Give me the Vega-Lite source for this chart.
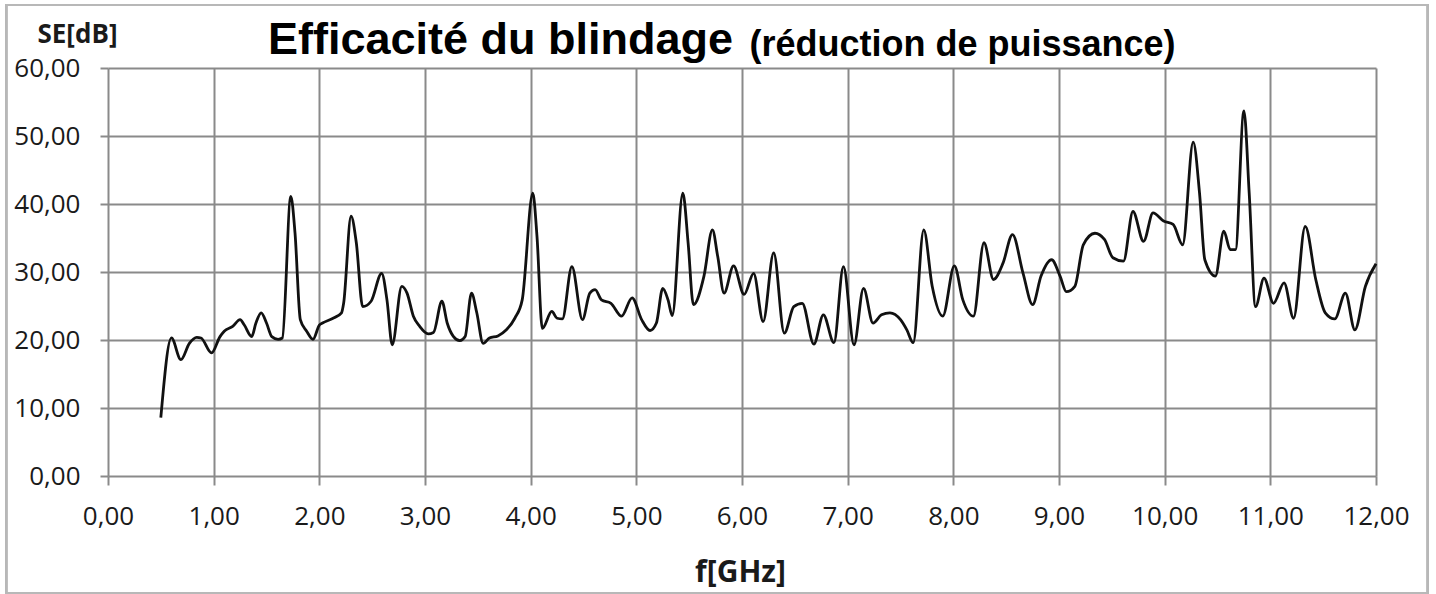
{
  "$schema": "https://vega.github.io/schema/vega-lite/v6.json",
  "width": 1268,
  "height": 408,
  "autosize": {"type": "none"},
  "padding": {"left": 108, "top": 68, "right": 60, "bottom": 118},
  "background": "white",
  "title": {
    "text": "Efficacité du blindage",
    "font": "Liberation Sans",
    "fontSize": 45,
    "fontWeight": "bold",
    "color": "#000000",
    "anchor": "start",
    "frame": "group",
    "baseline": "alphabetic",
    "offset": 0,
    "dx": 160,
    "dy": 95
  },
  "data": {
    "values": [
      {"f": 0.50, "se": 8.6}, {"f": 0.60, "se": 20.3}, {"f": 0.69, "se": 17.1}, {"f": 0.77, "se": 19.5},
      {"f": 0.84, "se": 20.4}, {"f": 0.88, "se": 20.3}, {"f": 0.98, "se": 18.1}, {"f": 1.06, "se": 20.5},
      {"f": 1.10, "se": 21.3}, {"f": 1.18, "se": 22.0}, {"f": 1.25, "se": 23.0}, {"f": 1.29, "se": 22.2},
      {"f": 1.36, "se": 20.5}, {"f": 1.40, "se": 22.5}, {"f": 1.45, "se": 24.0}, {"f": 1.50, "se": 22.5},
      {"f": 1.55, "se": 20.5}, {"f": 1.61, "se": 20.1}, {"f": 1.65, "se": 20.3}, {"f": 1.73, "se": 41.1},
      {"f": 1.77, "se": 35.7}, {"f": 1.82, "se": 23.0}, {"f": 1.88, "se": 21.3}, {"f": 1.94, "se": 20.1},
      {"f": 2.00, "se": 22.2}, {"f": 2.03, "se": 22.5}, {"f": 2.13, "se": 23.2}, {"f": 2.21, "se": 24.0},
      {"f": 2.23, "se": 25.4}, {"f": 2.30, "se": 38.2}, {"f": 2.35, "se": 34.3}, {"f": 2.41, "se": 24.9},
      {"f": 2.49, "se": 25.7}, {"f": 2.59, "se": 29.8}, {"f": 2.64, "se": 25.9}, {"f": 2.69, "se": 19.3},
      {"f": 2.78, "se": 27.9}, {"f": 2.83, "se": 26.9}, {"f": 2.89, "se": 23.5}, {"f": 2.95, "se": 22.0},
      {"f": 3.03, "se": 20.9}, {"f": 3.08, "se": 21.1}, {"f": 3.16, "se": 25.7}, {"f": 3.21, "se": 22.5},
      {"f": 3.27, "se": 20.5}, {"f": 3.33, "se": 19.9}, {"f": 3.38, "se": 20.5}, {"f": 3.44, "se": 26.9},
      {"f": 3.49, "se": 24.0}, {"f": 3.55, "se": 19.5}, {"f": 3.61, "se": 20.3}, {"f": 3.69, "se": 20.6},
      {"f": 3.77, "se": 21.5}, {"f": 3.85, "se": 23.2}, {"f": 3.92, "se": 25.9}, {"f": 4.02, "se": 41.6},
      {"f": 4.06, "se": 35.2}, {"f": 4.11, "se": 21.7}, {"f": 4.20, "se": 24.2}, {"f": 4.25, "se": 23.2},
      {"f": 4.30, "se": 23.1}, {"f": 4.39, "se": 30.8}, {"f": 4.49, "se": 23.0}, {"f": 4.56, "se": 26.9},
      {"f": 4.61, "se": 27.4}, {"f": 4.67, "se": 25.9}, {"f": 4.76, "se": 25.4}, {"f": 4.86, "se": 23.5},
      {"f": 4.96, "se": 26.2}, {"f": 5.05, "se": 23.0}, {"f": 5.13, "se": 21.4}, {"f": 5.19, "se": 22.5},
      {"f": 5.25, "se": 27.6}, {"f": 5.30, "se": 25.9}, {"f": 5.34, "se": 23.6}, {"f": 5.44, "se": 41.6},
      {"f": 5.49, "se": 34.3}, {"f": 5.54, "se": 25.2}, {"f": 5.64, "se": 29.4}, {"f": 5.72, "se": 36.2},
      {"f": 5.77, "se": 32.3}, {"f": 5.83, "se": 26.9}, {"f": 5.92, "se": 30.9}, {"f": 6.02, "se": 26.7},
      {"f": 6.11, "se": 29.8}, {"f": 6.20, "se": 22.7}, {"f": 6.30, "se": 32.8}, {"f": 6.40, "se": 21.0},
      {"f": 6.49, "se": 24.9}, {"f": 6.57, "se": 25.4}, {"f": 6.68, "se": 19.4}, {"f": 6.77, "se": 23.7},
      {"f": 6.87, "se": 19.6}, {"f": 6.96, "se": 30.8}, {"f": 7.06, "se": 19.3}, {"f": 7.15, "se": 27.6},
      {"f": 7.24, "se": 22.5}, {"f": 7.32, "se": 23.7}, {"f": 7.40, "se": 24.0}, {"f": 7.50, "se": 23.0},
      {"f": 7.56, "se": 21.5}, {"f": 7.62, "se": 19.6}, {"f": 7.72, "se": 36.2}, {"f": 7.80, "se": 27.9},
      {"f": 7.90, "se": 23.5}, {"f": 8.01, "se": 30.9}, {"f": 8.09, "se": 25.9}, {"f": 8.19, "se": 23.5},
      {"f": 8.29, "se": 34.3}, {"f": 8.38, "se": 28.9}, {"f": 8.47, "se": 31.3}, {"f": 8.56, "se": 35.5},
      {"f": 8.66, "se": 29.8}, {"f": 8.75, "se": 25.2}, {"f": 8.83, "se": 29.4}, {"f": 8.93, "se": 31.8},
      {"f": 9.01, "se": 29.4}, {"f": 9.07, "se": 27.1}, {"f": 9.15, "se": 27.9}, {"f": 9.23, "se": 34.0},
      {"f": 9.34, "se": 35.7}, {"f": 9.43, "se": 34.8}, {"f": 9.51, "se": 32.1}, {"f": 9.61, "se": 31.6},
      {"f": 9.70, "se": 38.9}, {"f": 9.80, "se": 34.5}, {"f": 9.89, "se": 38.7}, {"f": 9.99, "se": 37.5},
      {"f": 10.08, "se": 37.0}, {"f": 10.17, "se": 34.0}, {"f": 10.27, "se": 49.1}, {"f": 10.33, "se": 41.6},
      {"f": 10.38, "se": 31.8}, {"f": 10.48, "se": 29.4}, {"f": 10.56, "se": 36.0}, {"f": 10.62, "se": 33.3},
      {"f": 10.67, "se": 33.3}, {"f": 10.75, "se": 53.7}, {"f": 10.80, "se": 41.6}, {"f": 10.86, "se": 24.9},
      {"f": 10.94, "se": 29.1}, {"f": 11.03, "se": 25.4}, {"f": 11.13, "se": 28.4}, {"f": 11.22, "se": 23.2},
      {"f": 11.33, "se": 36.7}, {"f": 11.43, "se": 28.9}, {"f": 11.52, "se": 24.0}, {"f": 11.61, "se": 23.1},
      {"f": 11.71, "se": 26.9}, {"f": 11.80, "se": 21.5}, {"f": 11.90, "se": 27.9}, {"f": 12.00, "se": 31.2}
    ]
  },
  "layer": [
    {
      "mark": {"type": "rect", "fill": "transparent", "stroke": "#b8b8b8", "strokeWidth": 2, "clip": false},
      "encoding": {
        "x": {
          "datum": -0.965,
          "type": "quantitative",
          "scale": {"domain": [0, 12], "nice": false, "zero": false},
          "axis": {
            "orient": "top",
            "labels": false,
            "ticks": false,
            "domain": false,
            "grid": false,
            "title": "(réduction de puissance)",
            "titleFont": "Liberation Sans",
            "titleFontSize": 36,
            "titleFontWeight": "bold",
            "titleColor": "#000000",
            "titleAlign": "center",
            "titleBaseline": "alphabetic",
            "titleAnchor": null,
            "titleX": 854,
            "titleY": -13
          }
        },
        "x2": {"datum": 12.492},
        "y": {
          "datum": 69.26,
          "type": "quantitative",
          "scale": {"domain": [0, 60], "nice": false, "zero": false},
          "axis": null
        },
        "y2": {"datum": -17.21}
      }
    },
    {
      "mark": {"type": "line", "color": "#111111", "strokeWidth": 2.8, "interpolate": "monotone"},
      "encoding": {
        "x": {
          "field": "f",
          "type": "quantitative",
          "scale": {"domain": [0, 12], "nice": false, "zero": false},
          "axis": {
            "orient": "bottom",
            "values": [0, 1, 2, 3, 4, 5, 6, 7, 8, 9, 10, 11, 12],
            "labelExpr": "replace(format(datum.value, '.2f'), '.', ',')",
            "labelFont": "Open Sans",
            "labelFontSize": 26,
            "labelColor": "#1a1a1a",
            "labelBaseline": "alphabetic",
            "labelPadding": 39,
            "labelFlush": false,
            "labelOverlap": false,
            "domain": false,
            "ticks": true,
            "tickSize": 9,
            "tickColor": "#8a8a8a",
            "tickWidth": 2,
            "grid": true,
            "gridColor": "#8a8a8a",
            "gridWidth": 2,
            "gridOpacity": 1,
            "title": "f[GHz]",
            "titleFont": "Open Sans",
            "titleFontSize": 30,
            "titleFontWeight": "bold",
            "titleColor": "#1a1a1a",
            "titleAlign": "center",
            "titleBaseline": "alphabetic",
            "titleAnchor": null,
            "titleX": 632,
            "titleY": 105
          }
        },
        "y": {
          "field": "se",
          "type": "quantitative",
          "scale": {"domain": [0, 60], "nice": false, "zero": false},
          "axis": {
            "orient": "left",
            "values": [0, 10, 20, 30, 40, 50, 60],
            "labelExpr": "replace(format(datum.value, '.2f'), '.', ',')",
            "labelFont": "Open Sans",
            "labelFontSize": 26,
            "labelColor": "#1a1a1a",
            "labelBaseline": "middle",
            "labelPadding": 20,
            "labelFlush": false,
            "labelOverlap": false,
            "domain": false,
            "ticks": true,
            "tickSize": 8,
            "tickColor": "#8a8a8a",
            "tickWidth": 2,
            "grid": true,
            "gridColor": "#8a8a8a",
            "gridWidth": 2,
            "gridOpacity": 1,
            "title": "SE[dB]",
            "titleFont": "Open Sans",
            "titleFontSize": 26,
            "titleFontWeight": "bold",
            "titleColor": "#1a1a1a",
            "titleAngle": 0,
            "titleAlign": "center",
            "titleBaseline": "alphabetic",
            "titleAnchor": null,
            "titleX": -31,
            "titleY": -26
          }
        }
      }
    }
  ],
  "resolve": {"axis": {"x": "independent", "y": "independent"}},
  "config": {
    "view": {"stroke": null}
  }
}
